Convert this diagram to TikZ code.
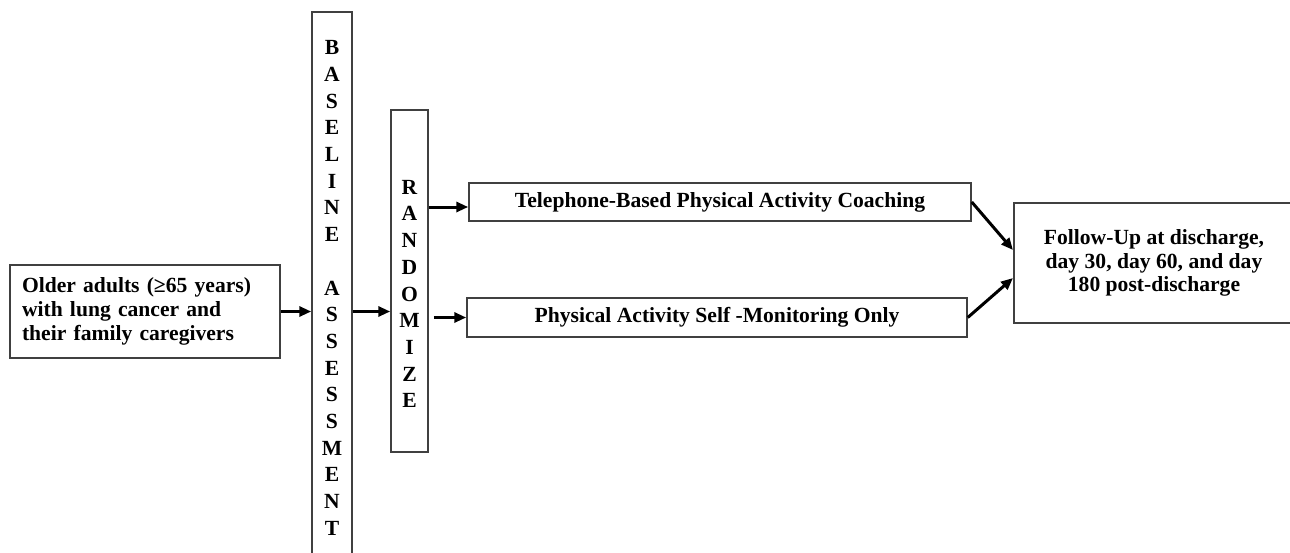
\documentclass[tikz,border=0pt]{standalone}
\usepackage{fontspec}
\setmainfont{Liberation Serif}
\usetikzlibrary{positioning, arrows.meta}

\begin{document}
\begin{tikzpicture}[
    x=0.5pt, y=-0.5pt,
    >={Triangle[length=6pt,width=5pt]},
    every node/.style={font=\bfseries\fontsize{10.8}{11.9}\selectfont},
    box/.style={
        rectangle,
        draw=black!75,
        line width=0.75pt,
        inner sep=0pt
    },
    letters/.style={
        align=center,
        inner sep=0pt,
        font=\bfseries\fontsize{10.8}{13.35}\selectfont
    },
    arrow/.style={->, line width=1.5pt}
]
\clip (0,0) rectangle (1290,552);
\fill[white] (0,0) rectangle (1290,552);

% Participants
\node[box, minimum width=135pt, minimum height=46.5pt, text width=123pt, align=left] (older) at (145,311.5) {Older adults (≥65 years)\\with lung cancer and\\their family caregivers};

% Baseline assessment column
\node[box, minimum width=20pt, minimum height=276pt] (base) at (332,288) {};
\node[letters] (basetxt) at (332,288) {B\\A\\S\\E\\L\\I\\N\\E\\~\\A\\S\\S\\E\\S\\S\\M\\E\\N\\T};

% Randomize column
\node[box, minimum width=18.5pt, minimum height=171pt] (rand) at (409.5,281) {};
\node[letters] (randtxt) at (409.5,294) {R\\A\\N\\D\\O\\M\\I\\Z\\E};

% Study arms
\node[box, minimum width=251pt, minimum height=19pt] (tel) at (720,202) {Telephone-Based Physical Activity Coaching};
\node[box, minimum width=250pt, minimum height=19.5pt] (self) at (717,317.5) {Physical Activity Self -Monitoring Only};

% Follow-up
\node[box, minimum width=150pt, minimum height=60pt, anchor=west] (follow) at (1013,263) {};
\node[align=center] (followtxt) at (1154,263) {Follow-Up at discharge,\\day 30, day 60, and day\\180 post-discharge};

% Arrows
\draw[arrow] (older.east) -- (older.east -| base.west);
\draw[arrow] (base.east |- older.east) -- (rand.west |- older.east);
\draw[arrow] ([yshift=-2.5pt]rand.east |- tel.west) -- ([yshift=-2.5pt]tel.west);
\draw[arrow, shorten <=2.5pt] (rand.east |- self.west) -- (self.west);
\draw[arrow] (tel.east) -- ([yshift=6.5pt]follow.west);
\draw[arrow] (self.east) -- ([yshift=-7.5pt]follow.west);

\end{tikzpicture}
\end{document}
